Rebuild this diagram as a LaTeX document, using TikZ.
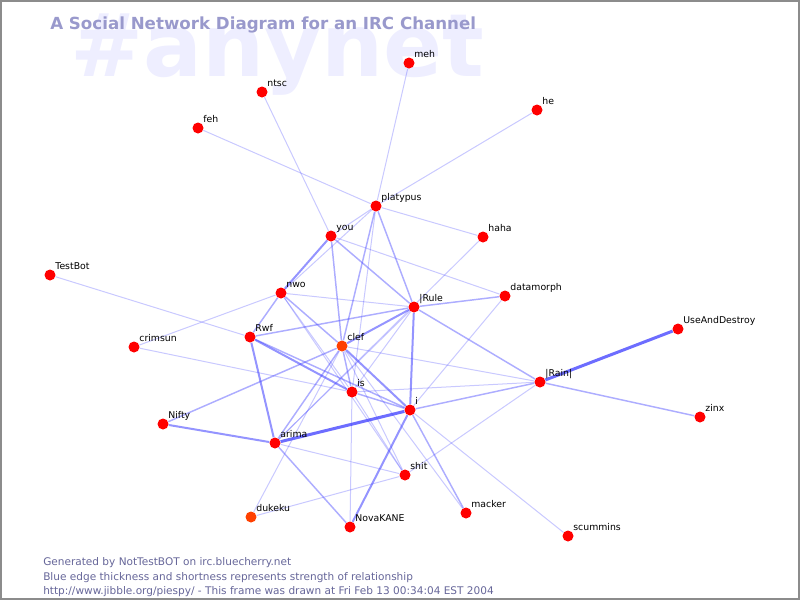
\documentclass[tikz,border=0pt]{standalone}
\usepackage{fontspec}
\setmainfont{DejaVu Sans}
\usetikzlibrary{backgrounds}

\definecolor{edgeblue}{RGB}{60,60,255}
\definecolor{titleblue}{RGB}{153,153,204}
\definecolor{markblue}{RGB}{238,238,255}
\definecolor{footgray}{RGB}{102,102,153}
\definecolor{nodered}{RGB}{255,0,0}
\definecolor{nodeorange}{RGB}{255,64,0}

\pgfdeclarelayer{edges}
\pgfsetlayers{background,edges,main}

\tikzset{
	person/.style = {circle, fill=nodered, inner sep=0pt, minimum size=8.25pt},
	lbl/.style = {inner sep=0pt, text depth=0pt, label distance=1.1pt, font=\fontsize{7}{8}\selectfont},
	foot/.style = {anchor=base west, inner sep=0pt, text=footgray, font=\fontsize{7.9}{9}\selectfont},
	weak/.style = {draw=edgeblue, draw opacity=0.28, line width=0.75pt},
	mid/.style = {draw=edgeblue, draw opacity=0.42, line width=1.1pt},
	strong/.style = {draw=edgeblue, draw opacity=0.55, line width=1.5pt},
	strongest/.style = {draw=edgeblue, draw opacity=0.75, line width=2.25pt}
}

\begin{document}
\begin{tikzpicture}[x=0.75pt, y=-0.75pt]

	\useasboundingbox (0,0) rectangle (800,600);

	% watermark, title and frame
	\begin{pgfonlayer}{background}
		\node[anchor=base west, inner sep=0pt, text=markblue, font=\bfseries\fontsize{65.5}{66}\selectfont] (mark) at (70,76) {\#anynet};
		\draw[gray!90, line width=1.5pt] (1,1) rectangle (799,599);
	\end{pgfonlayer}
	\node[anchor=base west, inner sep=0pt, text=titleblue, font=\bfseries\fontsize{12.5}{14}\selectfont] (title) at (50,29) {A Social Network Diagram for an IRC Channel};

	% people
	\node[person, label={[lbl]north east:meh}] (meh) at (409,63) {};
	\node[person, label={[lbl]north east:ntsc}] (ntsc) at (262,92) {};
	\node[person, label={[lbl]north east:he}] (he) at (537,110) {};
	\node[person, label={[lbl]north east:feh}] (feh) at (198,128) {};
	\node[person, label={[lbl]north east:platypus}] (platypus) at (376,206) {};
	\node[person, label={[lbl]north east:you}] (you) at (331,236) {};
	\node[person, label={[lbl]north east:haha}] (haha) at (483,237) {};
	\node[person, label={[lbl]north east:TestBot}] (TestBot) at (50,275) {};
	\node[person, label={[lbl]north east:nwo}] (nwo) at (281,293) {};
	\node[person, label={[lbl]north east:datamorph}] (datamorph) at (505,296) {};
	\node[person, label={[lbl]north east:|Rule}] (lRule) at (414,307) {};
	\node[person, label={[lbl]north east:UseAndDestroy}] (UseAndDestroy) at (678,329) {};
	\node[person, label={[lbl]north east:Rwf}] (Rwf) at (250,337) {};
	\node[person, label={[lbl]north east:crimsun}] (crimsun) at (134,347) {};
	\node[person, fill=nodeorange, label={[lbl]north east:clef}] (clef) at (342,346) {};
	\node[person, label={[lbl]north east:|Rain|}] (Rain) at (540,382) {};
	\node[person, label={[lbl]north east:is}] (is) at (352,392) {};
	\node[person, label={[lbl]north east:i}] (i) at (410,410) {};
	\node[person, label={[lbl]north east:zinx}] (zinx) at (700,417) {};
	\node[person, label={[lbl]north east:Nifty}] (Nifty) at (163,424) {};
	\node[person, label={[lbl]north east:arima}] (arima) at (275,443) {};
	\node[person, label={[lbl]north east:shit}] (shit) at (405,475) {};
	\node[person, label={[lbl]north east:macker}] (macker) at (466,513) {};
	\node[person, fill=nodeorange, label={[lbl]north east:dukeku}] (dukeku) at (251,517) {};
	\node[person, label={[lbl]north east:NovaKANE}] (NovaKANE) at (350,527) {};
	\node[person, label={[lbl]north east:scummins}] (scummins) at (568,536) {};

	% relationships
	\begin{pgfonlayer}{edges}
		\draw[weak] (meh) -- (platypus);
		\draw[weak] (he) -- (platypus);
		\draw[weak] (feh) -- (platypus);
		\draw[weak] (ntsc) -- (you);
		\draw[weak] (platypus) -- (haha);
		\draw[weak] (platypus) -- (you);
		\draw[weak] (platypus) -- (nwo);
		\draw[mid] (platypus) -- (clef);
		\draw[weak] (platypus) -- (is);
		\draw[mid] (platypus) -- (lRule);
		\draw[strong] (you) -- (nwo);
		\draw[mid] (you) -- (clef);
		\draw[mid] (you) -- (lRule);
		\draw[weak] (you) -- (datamorph);
		\draw[weak] (haha) -- (arima);
		\draw[weak] (TestBot) -- (Rwf);
		\draw[weak] (crimsun) -- (nwo);
		\draw[weak] (crimsun) -- (is);
		\draw[mid] (nwo) -- (Rwf);
		\draw[weak] (nwo) -- (lRule);
		\draw[mid] (nwo) -- (clef);
		\draw[weak] (nwo) -- (is);
		\draw[weak] (nwo) -- (shit);
		\draw[mid] (Rwf) -- (lRule);
		\draw[strong] (Rwf) -- (is);
		\draw[mid] (Rwf) -- (i);
		\draw[strong] (Rwf) -- (arima);
		\draw[mid] (lRule) -- (datamorph);
		\draw[strong] (lRule) -- (clef);
		\draw[strong] (lRule) -- (i);
		\draw[mid] (lRule) -- (Rain);
		\draw[weak] (lRule) -- (is);
		\draw[weak] (lRule) -- (arima);
		\draw[weak] (datamorph) -- (i);
		\draw[strongest] (UseAndDestroy) -- (Rain);
		\draw[mid] (zinx) -- (Rain);
		\draw[weak] (Rain) -- (clef);
		\draw[weak] (Rain) -- (is);
		\draw[mid] (Rain) -- (i);
		\draw[weak] (Rain) -- (shit);
		\draw[mid] (clef) -- (Nifty);
		\draw[mid] (clef) -- (arima);
		\draw[mid] (clef) -- (is);
		\draw[strong] (clef) -- (i);
		\draw[weak] (clef) -- (shit);
		\draw[weak] (clef) -- (macker);
		\draw[weak] (clef) -- (dukeku);
		\draw[mid] (is) -- (i);
		\draw[weak] (is) -- (NovaKANE);
		\draw[weak] (is) -- (shit);
		\draw[strongest] (i) -- (arima);
		\draw[strong] (i) -- (NovaKANE);
		\draw[mid] (i) -- (macker);
		\draw[weak] (i) -- (scummins);
		\draw[strong] (arima) -- (Nifty);
		\draw[mid] (arima) -- (NovaKANE);
		\draw[weak] (arima) -- (shit);
		\draw[weak] (dukeku) -- (shit);
	\end{pgfonlayer}

	% footer
	\node[foot] (gen) at (43,565) {Generated by NotTestBOT on irc.bluecherry.net};
	\node[foot] (legend) at (43,580) {Blue edge thickness and shortness represents strength of relationship};
	\node[foot] (stamp) at (43,594) {http://www.jibble.org/piespy/ - This frame was drawn at Fri Feb 13 00:34:04 EST 2004};

\end{tikzpicture}
\end{document}
